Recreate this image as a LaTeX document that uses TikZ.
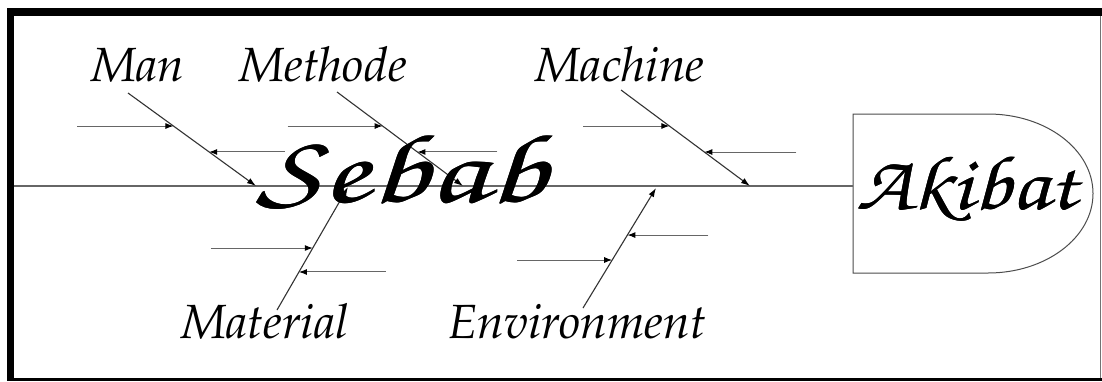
\documentclass[tikz,border=0pt]{standalone}
\usepackage[T1,TU]{fontenc}
\usepackage{tikz}
\usetikzlibrary{arrows.meta, positioning, calc}
\newcommand\boldhand[1]{#1}
\IfFileExists{contour.sty}
  {\usepackage[outline]{contour}\contourlength{0.9pt}\renewcommand\boldhand{\contour{black}}}
  {}
\newcommand\handfont{\fontencoding{T1}\fontfamily{pzc}\fontshape{it}\fontsize{60}{66}\selectfont}
\newcommand\causefont{\fontencoding{T1}\fontfamily{ppl}\fontshape{it}\fontsize{48}{50}\selectfont}

\begin{document}
\begin{tikzpicture}[x=1pt, y=-1pt,
    bone/.style={line width=1.1pt, black!80, -{Latex[length=9pt,width=6pt,black]}},
    twig/.style={line width=1pt, black!60, -{Latex[length=8pt,width=6pt,black]}},
    cause/.style={inner sep=0pt, anchor=base, font=\causefont},
    hand/.style={inner sep=0pt, anchor=base, font=\handfont}]

    % --- Frame ---
    \fill[white] (0,0) rectangle (1102,381);
    \useasboundingbox (0,0) rectangle (1102,381);
    \fill[black] (7,8) rectangle (1102,16);
    \fill[black] (7,8) rectangle (14,381);
    \fill[black] (7,378) rectangle (1102,381);
    \draw[black!55, line width=1pt] (1100,16) -- (1100,378);

    % --- Head (Akibat) ---
    \draw[black!70, line width=1pt] (853,114) -- (988,114)
        arc[start angle=90, end angle=-90, x radius=105pt, y radius=79.5pt]
        -- (853,273) -- cycle;
    \node[hand] (akibat) at (967,209) {\resizebox{221pt}{55pt}{\boldhand{Akibat}}};

    % --- Spine ---
    \coordinate (tail) at (14,186);
    \coordinate (head) at (853,186);
    \draw[black!60, line width=1.2pt] (tail) -- (head);

    % --- Cause labels ---
    \node[cause] (man) at (138,81) {Man};
    \node[cause] (methode) at (323,81) {Methode};
    \node[cause] (machine) at (620,81) {Machine};
    \node[cause] (material) at (265,338) {Material};
    \node[cause] (environment) at (577,338) {Environment};

    % --- Man ---
    \coordinate (man-a) at (128,93);
    \coordinate (man-b) at (256,186);
    \coordinate (man-1) at ($(man-a)!0.355!(man-b)$);
    \coordinate (man-2) at ($(man-a)!0.634!(man-b)$);
    \draw[bone] (man-a) -- (man-b);
    \draw[twig] ($(man-1)+(-96,0)$) -- (man-1);
    \draw[twig] ($(man-2)+(76,0)$) -- (man-2);

    % --- Methode ---
    \coordinate (met-a) at (337,92);
    \coordinate (met-b) at (463,186);
    \coordinate (met-1) at ($(met-a)!0.362!(met-b)$);
    \coordinate (met-2) at ($(met-a)!0.638!(met-b)$);
    \draw[bone] (met-a) -- (met-b);
    \draw[twig] ($(met-1)+(-95,0)$) -- (met-1);
    \draw[twig] ($(met-2)+(80,0)$) -- (met-2);

    % --- Machine ---
    \coordinate (mac-a) at (621,90);
    \coordinate (mac-b) at (750,186);
    \coordinate (mac-1) at ($(mac-a)!0.375!(mac-b)$);
    \coordinate (mac-2) at ($(mac-a)!0.646!(mac-b)$);
    \draw[bone] (mac-a) -- (mac-b);
    \draw[twig] ($(mac-1)+(-86,0)$) -- (mac-1);
    \draw[twig] ($(mac-2)+(92,0)$) -- (mac-2);

    % --- Material ---
    \coordinate (mat-a) at (277,310);
    \coordinate (mat-b) at (348,187);
    \coordinate (mat-1) at ($(mat-a)!0.504!(mat-b)$);
    \coordinate (mat-2) at ($(mat-a)!0.309!(mat-b)$);
    \draw[bone] (mat-a) -- (mat-b);
    \draw[twig] ($(mat-1)+(-102,0)$) -- (mat-1);
    \draw[twig] ($(mat-2)+(87,0)$) -- (mat-2);

    % --- Environment ---
    \coordinate (env-a) at (583,308);
    \coordinate (env-b) at (656,188);
    \coordinate (env-1) at ($(env-a)!0.608!(env-b)$);
    \coordinate (env-2) at ($(env-a)!0.4!(env-b)$);
    \draw[bone] (env-a) -- (env-b);
    \draw[twig] ($(env-1)+(81,0)$) -- (env-1);
    \draw[twig] ($(env-2)+(-95,0)$) -- (env-2);

    % --- Sebab ---
    \node[hand] (sebab) at (402,202) {\resizebox{290pt}{70pt}{\boldhand{Sebab}}};

\end{tikzpicture}
\end{document}
